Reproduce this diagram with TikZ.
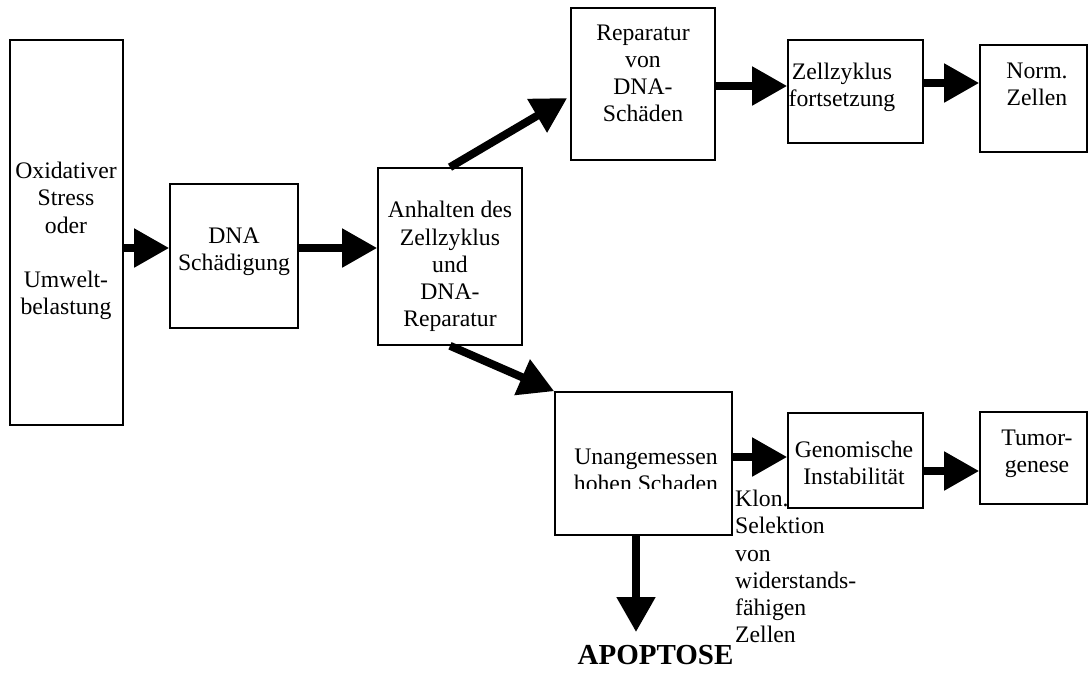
\documentclass[tikz,border=0pt]{standalone}
\usepackage{fontspec}
\setmainfont{Liberation Serif}
\usetikzlibrary{arrows.meta}

\newcommand{\boxfont}{\fontsize{23.7pt}{27.2pt}\selectfont}

\begin{document}
\begin{tikzpicture}[x=1pt, y=-1pt,
    box/.style={draw, line width=1.6pt, inner sep=0pt},
    lbl/.style={font=\boxfont, align=center, inner sep=0pt},
    flow/.style={-{Triangle[length=35pt, width=37pt]}, line width=8pt}]
    \useasboundingbox (0,0) rectangle (1088,673);

    % Nodes
    \node (stress) at (66.5, 232.5)[box, minimum width=113pt, minimum height=385pt] {};
    \node (dna) at (234, 256)[box, minimum width=128pt, minimum height=144pt] {};
    \node (halt) at (450, 256.5)[box, minimum width=144pt, minimum height=177pt] {};
    \node (repair) at (643, 84)[box, minimum width=144pt, minimum height=152pt] {};
    \node (cycle) at (855.5, 91.5)[box, minimum width=135pt, minimum height=103pt] {};
    \node (normal) at (1033.5, 98.5)[box, minimum width=107pt, minimum height=107pt] {};
    \node (damage) at (643.5, 463.5)[box, minimum width=177pt, minimum height=143pt] {};
    \node (genom) at (855.5, 460.5)[box, minimum width=135pt, minimum height=95pt] {};
    \node (tumor) at (1033.5, 458)[box, minimum width=107pt, minimum height=92pt] {};

    % labels
    \node (stress-lbl) at (66, 241)[lbl] {Oxidativer\\Stress\\oder\\[27pt]Umwelt-\\belastung};
    \node (dna-lbl) at (234, 252)[lbl] {DNA\\Schädigung};
    \node (halt-lbl) at (450, 266.5)[lbl] {Anhalten des\\Zellzyklus\\und\\DNA-\\Reparatur};
    \node (repair-lbl) at (643, 73.4)[lbl] {Reparatur\\von\\DNA-\\Schäden};
    \node (cycle-lbl) at (842, 87.2)[lbl] {Zellzyklus\\fortsetzung};
    \node (normal-lbl) at (1037, 84)[lbl] {Norm.\\Zellen};
    \begin{scope}
        \clip (555, 392) rectangle (732, 488);
        \node (damage-lbl) at (646, 470)[lbl] {Unangemessen\\hohen Schaden};
    \end{scope}
    \node (genom-lbl) at (854, 462.7)[lbl] {Genomische\\Instabilität};
    \node (tumor-lbl) at (1037, 453.5)[lbl] {Tumor-\\genese};
    \node (select) at (735, 490)[anchor=north west, font=\boxfont, align=left, inner sep=0pt]
        {Klon.\\Selektion\\von\\widerstands-\\fähigen\\Zellen};
    \node (apo) at (655.5, 655.4)[inner sep=0pt, font=\fontsize{29pt}{34pt}\selectfont\bfseries] {APOPTOSE};

    % edges
    \path[flow]
        ([yshift=-15.5pt]stress.east) edge ([yshift=8pt]dna.west)
        ([yshift=8pt]dna.east) edge ([yshift=8.5pt]halt.west)
        (halt.north) edge ([xshift=-3pt, yshift=-14pt]repair.west)
        ([yshift=-2pt]repair.east) edge ([yshift=5.5pt]cycle.west)
        ([yshift=8.5pt]cycle.east) edge ([yshift=15.5pt]normal.west)
        (halt.south) edge (damage.north west)
        ([yshift=6.5pt]damage.east) edge ([yshift=3.5pt]genom.west)
        ([yshift=-10.5pt]genom.east) edge ([yshift=-13pt]tumor.west)
        ([xshift=-7.5pt]damage.south) edge ([xshift=-19.5pt, yshift=13.4pt]apo.north);

\end{tikzpicture}
\end{document}
